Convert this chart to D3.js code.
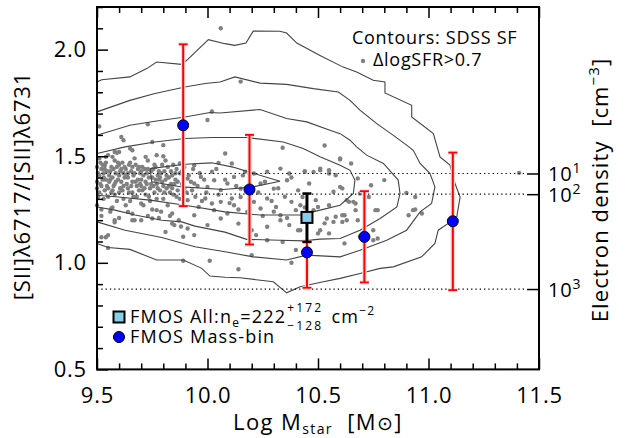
<!DOCTYPE html>
<html>
<head>
<meta charset="utf-8">
<script src="https://cdn.jsdelivr.net/npm/d3@7"></script>
<style>
  body { margin: 0; background: #fff; }
  svg { font-family: "Open Sans", "DejaVu Sans", sans-serif; }
</style>
</head>
<body>
<svg id="chart" width="628" height="438"></svg>
<script>
// ---- data -------------------------------------------------------------
// FMOS stellar-mass bins: log M*, [SII] ratio and its error range
const massBin    = [9.89, 10.19, 10.45, 10.71, 11.11];
const ratioBin   = [1.645, 1.344, 1.049, 1.122, 1.195];
const ratioBinHi = [2.025, 1.600, 1.100, 1.336, 1.517];
const ratioBinLo = [1.266, 1.086, 0.883, 0.908, 0.872];

// FMOS stacked spectrum of all galaxies
const allMass = 10.45;
const allRatio = 1.213;
const allRatioHi = 1.325;
const allRatioLo = 1.098;

// Electron density reference levels and their [SII] ratios
const densityLabels = ["1", "2", "3"];          // exponents of 10
const densityRatio  = [1.419, 1.322, 0.877];

// Axis ticks
const xMajor = [9.5, 10.0, 10.5, 11.0, 11.5];
const yMajor = [0.5, 1.0, 1.5, 2.0];

// SDSS star-forming density contours (log M*, ratio)
const contourA = [[9.50,1.848],[9.521,1.859],[9.649,1.872],[9.725,1.911],[9.770,1.942],[9.883,1.931],[9.906,1.950],[10.004,2.047],[10.079,2.028],[10.124,2.020],[10.174,2.031],[10.207,2.087],[10.328,2.086],[10.358,2.078],[10.404,2.031],[10.509,1.973],[10.614,1.918],[10.675,1.895],[10.750,1.856],[10.803,1.848],[10.803,1.797],[10.924,1.739],[10.924,1.684],[11.022,1.606],[11.052,1.497],[11.097,1.458],[11.120,1.372],[11.143,1.309],[11.128,1.216],[11.090,1.185],[11.044,1.153],[11.029,1.091],[10.969,1.028],[10.841,0.981],[10.781,0.974],[10.690,0.950],[10.600,0.927],[10.524,0.911],[10.419,0.888],[10.358,0.859],[10.298,0.911],[10.147,0.930],[10.079,0.932],[10.011,0.938],[9.974,0.974],[9.891,1.013],[9.770,1.013],[9.649,1.063],[9.551,1.072],[9.50,1.091]];
const contourB = [[9.50,1.708],[9.649,1.762],[9.762,1.794],[9.898,1.825],[9.989,1.841],[10.057,1.848],[10.124,1.872],[10.238,1.843],[10.358,1.837],[10.479,1.817],[10.592,1.801],[10.645,1.762],[10.690,1.716],[10.766,1.653],[10.841,1.598],[10.901,1.552],[10.931,1.528],[10.962,1.466],[11.007,1.419],[11.029,1.356],[11.014,1.278],[10.962,1.239],[10.901,1.153],[10.811,1.106],[10.690,1.059],[10.600,1.028],[10.449,1.036],[10.358,1.013],[10.207,1.028],[10.079,1.052],[9.943,1.075],[9.793,1.119],[9.627,1.153],[9.50,1.192]];
const contourC = [[9.50,1.598],[9.649,1.645],[9.762,1.664],[9.898,1.684],[10.011,1.705],[10.057,1.703],[10.238,1.719],[10.358,1.677],[10.449,1.661],[10.554,1.622],[10.600,1.606],[10.645,1.575],[10.675,1.544],[10.720,1.505],[10.796,1.466],[10.863,1.388],[10.871,1.325],[10.857,1.262],[10.781,1.208],[10.690,1.153],[10.600,1.114],[10.509,1.111],[10.433,1.103],[10.328,1.106],[10.177,1.110],[10.079,1.144],[9.943,1.172],[9.883,1.192],[9.793,1.200],[9.672,1.224],[9.581,1.247],[9.50,1.262]];
const contourD = [[9.50,1.513],[9.627,1.544],[9.762,1.567],[9.898,1.583],[10.019,1.588],[10.177,1.588],[10.343,1.567],[10.433,1.536],[10.509,1.497],[10.600,1.458],[10.645,1.434],[10.667,1.388],[10.660,1.325],[10.600,1.270],[10.509,1.247],[10.419,1.224],[10.238,1.224],[10.079,1.239],[9.898,1.270],[9.740,1.294],[9.596,1.309],[9.50,1.317]];
const contourE = [[9.740,1.442],[9.898,1.462],[10.019,1.469],[10.115,1.449],[10.200,1.422],[10.328,1.383],[10.200,1.355],[10.071,1.344],[9.883,1.356],[9.748,1.380],[9.740,1.442]];
const contours = [contourA, contourB, contourC, contourD, contourE];

// SDSS galaxies with high specific SFR offset (log M*, ratio)
const highSfrPoints = [
  [10.06,2.10],[10.15,1.85],[10.02,1.71],[10.00,1.67],[9.73,1.65],[9.51,1.64],[9.61,1.59],[9.62,1.575],
  [9.75,1.567],[9.80,1.552],[10.34,1.54],[10.53,1.55],[10.60,1.49],[10.65,1.466],[10.08,1.513],
  [9.65,1.536],[9.66,1.528],[9.58,1.52],[9.60,1.52],[9.54,1.497],[9.57,1.497],[9.72,1.497],[9.80,1.50],
  [9.77,1.505],[9.55,1.505],[9.59,1.516],[9.535,1.458],
  [9.50,1.45],[9.51,1.41],[9.50,1.38],[9.52,1.36],[9.51,1.33],[9.53,1.30],[9.50,1.27],[9.52,1.44],
  [9.54,1.39],[9.53,1.42],[9.55,1.35],[9.54,1.47],[9.51,1.49],[9.55,1.31],[9.52,1.25],[9.50,1.35],[9.53,1.40],
  [9.56,1.43],[9.57,1.40],[9.58,1.37],[9.57,1.34],[9.59,1.45],[9.60,1.41],[9.58,1.48],[9.61,1.38],[9.60,1.33],
  [9.62,1.36],[9.59,1.29],[9.61,1.44],[9.57,1.26],[9.62,1.42],[9.56,1.39],[9.60,1.46],[9.58,1.32],[9.62,1.30],
  [9.63,1.44],[9.64,1.40],[9.65,1.47],[9.66,1.38],[9.64,1.35],[9.67,1.42],[9.68,1.36],[9.66,1.33],[9.69,1.45],
  [9.70,1.39],[9.65,1.29],[9.68,1.31],[9.70,1.43],[9.67,1.49],[9.63,1.27],[9.69,1.34],[9.64,1.42],[9.66,1.45],[9.70,1.36],
  [9.71,1.41],[9.72,1.38],[9.73,1.44],[9.74,1.35],[9.75,1.40],[9.76,1.46],[9.72,1.32],[9.77,1.37],[9.78,1.43],
  [9.74,1.29],[9.76,1.33],[9.73,1.48],[9.78,1.39],[9.71,1.27],[9.75,1.25],[9.77,1.30],
  [9.79,1.42],[9.80,1.36],[9.81,1.39],[9.82,1.45],[9.83,1.33],[9.84,1.41],[9.80,1.30],[9.85,1.37],[9.86,1.44],
  [9.82,1.27],[9.84,1.35],[9.81,1.48],[9.86,1.31],[9.79,1.24],
  [9.505,1.42],[9.515,1.37],[9.525,1.46],[9.535,1.34],[9.545,1.43],[9.555,1.38],[9.565,1.45],[9.575,1.36],
  [9.585,1.42],[9.595,1.39],[9.605,1.35],[9.615,1.47],[9.625,1.40],[9.635,1.37],[9.645,1.33],[9.655,1.43],
  [9.665,1.41],[9.675,1.46],[9.685,1.39],[9.695,1.37],[9.705,1.45],[9.715,1.35],[9.725,1.42],[9.735,1.40],
  [9.745,1.37],[9.755,1.44],[9.765,1.39],[9.775,1.41],[9.785,1.34],[9.795,1.38],[9.805,1.43],[9.815,1.35],
  [9.825,1.40],[9.835,1.37],[9.845,1.46],[9.855,1.39],[9.865,1.34],[9.875,1.42],[9.885,1.37],[9.895,1.45],
  [9.905,1.33],[9.915,1.41],[9.925,1.38],[9.935,1.44],[9.945,1.31],[9.955,1.36],[9.965,1.42],[9.975,1.29],
  [9.985,1.39],[9.995,1.33],
  [9.505,1.31],[9.515,1.47],[9.525,1.39],[9.535,1.44],[9.545,1.36],[9.555,1.41],[9.565,1.33],[9.575,1.44],
  [9.585,1.38],[9.595,1.47],[9.605,1.43],[9.615,1.34],[9.625,1.45],[9.635,1.41],[9.645,1.46],[9.655,1.36],
  [9.665,1.31],[9.675,1.38],[9.685,1.44],[9.695,1.42],[9.705,1.34],[9.715,1.44],[9.725,1.37],[9.735,1.31],
  [9.745,1.43],[9.755,1.36],[9.765,1.45],[9.775,1.35],[9.785,1.40],[9.795,1.46],[9.805,1.33],[9.815,1.41],
  [9.825,1.36],[9.835,1.43],[9.845,1.32],[9.855,1.42],[9.865,1.38],[9.875,1.30],[9.885,1.43],[9.895,1.35],
  [9.52,1.22],[9.56,1.24],[9.60,1.21],[9.66,1.23],[9.70,1.20],[9.73,1.22],[9.78,1.21],[9.83,1.22],[9.87,1.20],[9.58,1.19],
  [9.565,1.255],[9.64,1.239],[9.70,1.278],[9.77,1.247],[9.84,1.231],[9.58,1.20],[9.67,1.20],
  [9.54,1.12],[9.52,1.12],[9.55,1.07],[9.55,1.13],[9.89,1.01],[10.01,1.01],[9.81,1.145],[9.88,1.17],[9.94,1.13],
  [9.66,1.20],[9.75,1.208],[9.85,1.177],[10.14,0.97],[10.38,1.00],
  [9.94,1.458],[10.02,1.427],[10.05,1.469],[10.11,1.466],[10.17,1.427],[10.27,1.427],[10.33,1.442],[10.44,1.427],
  [10.37,1.419],[10.21,1.419],[9.875,1.466],
  [9.91,1.395],[9.94,1.372],[9.97,1.403],[10.00,1.356],[10.03,1.387],[10.06,1.341],[10.09,1.372],[10.12,1.403],
  [10.15,1.348],[9.93,1.34],[10.24,1.372],[10.30,1.348],[10.36,1.387],[10.41,1.34],[10.46,1.372],
  [9.91,1.294],[9.96,1.262],[9.99,1.302],[10.03,1.247],[10.06,1.286],[10.09,1.231],[10.12,1.27],[10.15,1.309],
  [10.18,1.239],[10.21,1.286],[10.24,1.255],[10.27,1.302],[10.31,1.262],[10.33,1.223],[10.38,1.286],[10.40,1.247],
  [10.43,1.309],[10.02,1.278],[9.94,1.223],[10.11,1.302],
  [10.00,1.177],[10.06,1.208],[10.14,1.184],[10.20,1.153],[10.27,1.169],[10.33,1.20],[10.41,1.153],[9.84,1.184],
  [9.91,1.161],[9.89,1.122],
  [10.04,1.44],[10.08,1.39],[10.13,1.36],[10.16,1.41],[10.19,1.30],[10.23,1.33],[10.26,1.38],[10.29,1.29],
  [10.32,1.35],[10.35,1.31],[10.38,1.40],[10.42,1.27],[10.05,1.32],[10.10,1.28],[10.14,1.25],[10.18,1.35],
  [10.25,1.22],[10.30,1.24],[10.36,1.21],[10.44,1.26],
  [10.60,1.485],[10.44,1.43],[10.48,1.426],[10.51,1.434],[10.55,1.419],[10.58,1.411],[10.61,1.349],[10.63,1.294],
  [10.66,1.286],[10.69,1.325],[10.74,1.364],[10.77,1.247],[10.90,1.328],[10.94,1.25],[10.97,1.231],[10.49,1.294],
  [10.50,1.262],[10.55,1.27],[11.41,1.422],
  [10.68,1.396],[10.80,1.388],[10.64,1.286],[10.67,1.278],[10.67,1.247],[10.62,1.223],[10.61,1.192],[10.68,1.20],
  [10.76,1.247],[10.75,1.153],[10.75,1.106],[10.94,1.309],[10.91,1.223],[10.93,1.247],[10.73,1.309],
  [10.69,1.122],[10.55,1.434],[10.51,1.442],[10.60,1.356],[10.57,1.333],[10.58,1.216],[10.57,1.192],[10.63,1.20],
  [10.54,1.208],[10.48,1.247],[10.51,1.153],[10.55,1.138],[10.42,1.153],[10.37,1.177],[10.27,1.106],[10.22,1.13],
  [10.40,1.06],[10.20,1.036],[10.34,1.098],[10.53,1.185],[10.50,1.138],[10.62,1.091],[10.77,1.114],[10.61,1.223]
];

// ---- scales -----------------------------------------------------------
const svg = d3.select("#chart");
const x = d3.scaleLinear().domain([9.5, 11.5]).range([97, 539]);
const y = d3.scaleLinear().domain([0.5, 2.2]).range([369.4, 7]);
const [x0, x1] = x.range();
const [yBottom, yTop] = y.range();

const xMinor = d3.range(95, 116).map(v => v / 10).filter(v => !xMajor.includes(v));
const yMinor = d3.range(5, 23).map(v => v / 10).filter(v => !yMajor.includes(v));

const FONT = '"Open Sans", "DejaVu Sans", sans-serif';

// ---- scatter points ---------------------------------------------------
svg.append("g")
  .selectAll("circle")
  .data(highSfrPoints)
  .join("circle")
  .attr("cx", d => x(d[0]))
  .attr("cy", d => y(d[1]))
  .attr("r", 2.2)
  .attr("fill", "#808080");

// ---- contours ---------------------------------------------------------
const line = d3.line().x(d => x(d[0])).y(d => y(d[1]));
svg.append("g")
  .selectAll("path")
  .data(contours)
  .join("path")
  .attr("d", line)
  .attr("fill", "none")
  .attr("stroke", "#444")
  .attr("stroke-width", 1.1);

// ---- electron density reference lines ---------------------------------
svg.append("g")
  .selectAll("line")
  .data(densityRatio)
  .join("line")
  .attr("x1", x0).attr("x2", x1 - 12)
  .attr("y1", d => y(d)).attr("y2", d => y(d))
  .attr("stroke", "#000")
  .attr("stroke-width", 1.2)
  .attr("stroke-dasharray", "1.3,3");

// ---- mass-bin error bars ----------------------------------------------
const capW = 4.5;
const bars = svg.append("g");
massBin.forEach((m, i) => {
  const g = bars.append("g");
  const cx = x(m);
  // soft halo under the red bars
  g.append("line").attr("x1", cx).attr("x2", cx)
    .attr("y1", y(ratioBinHi[i])).attr("y2", y(ratioBinLo[i]))
    .attr("stroke", "#eadcdc").attr("stroke-width", 4.5);
  [ratioBinHi[i], ratioBinLo[i]].forEach(v => {
    g.append("line").attr("x1", cx - capW).attr("x2", cx + capW)
      .attr("y1", y(v)).attr("y2", y(v))
      .attr("stroke", "#eadcdc").attr("stroke-width", 4);
  });
  g.append("line").attr("x1", cx).attr("x2", cx)
    .attr("y1", y(ratioBinHi[i])).attr("y2", y(ratioBinLo[i]))
    .attr("stroke", "#ff0000").attr("stroke-width", 2);
  [ratioBinHi[i], ratioBinLo[i]].forEach(v => {
    g.append("line").attr("x1", cx - capW).attr("x2", cx + capW)
      .attr("y1", y(v)).attr("y2", y(v))
      .attr("stroke", "#ff0000").attr("stroke-width", 1.8);
  });
});

// ---- stacked (all galaxies) point ---------------------------------------
const ax = x(allMass);
svg.append("line").attr("x1", ax).attr("x2", ax)
  .attr("y1", y(allRatioHi)).attr("y2", y(allRatioLo))
  .attr("stroke", "#000").attr("stroke-width", 3);
[allRatioHi, allRatioLo].forEach(v => {
  svg.append("line").attr("x1", ax - capW).attr("x2", ax + capW)
    .attr("y1", y(v)).attr("y2", y(v))
    .attr("stroke", "#000").attr("stroke-width", 2.5);
});
svg.append("rect")
  .attr("x", ax - 5.5).attr("y", y(allRatio) - 5.5)
  .attr("width", 11).attr("height", 11)
  .attr("fill", "#87ceeb").attr("stroke", "#000").attr("stroke-width", 2);

// ---- mass-bin points ----------------------------------------------------
svg.append("g")
  .selectAll("circle")
  .data(massBin)
  .join("circle")
  .attr("cx", d => x(d))
  .attr("cy", (d, i) => y(ratioBin[i]))
  .attr("r", 5.5)
  .attr("fill", "#0000ff")
  .attr("stroke", "#000")
  .attr("stroke-width", 1);

// ---- axes ---------------------------------------------------------------
function styleAxis(g) {
  g.select(".domain").remove();
  g.selectAll("line").attr("stroke", "#000").attr("stroke-width", 1.5);
  g.attr("font-family", FONT).attr("font-size", 22);
  g.selectAll("text").attr("fill", "#000").attr("letter-spacing", 0.8);
}

// bottom
svg.append("g").attr("transform", `translate(0,${yBottom})`)
  .call(d3.axisBottom(x).tickValues(xMinor).tickSize(-6).tickFormat(""))
  .call(styleAxis);
svg.append("g").attr("transform", `translate(0,${yBottom})`)
  .call(d3.axisBottom(x).tickValues(xMajor).tickSizeInner(-11).tickSizeOuter(0)
        .tickPadding(18).tickFormat(d3.format(".1f")))
  .call(styleAxis);
// top (ticks only)
svg.append("g").attr("transform", `translate(0,${yTop})`)
  .call(d3.axisTop(x).tickValues(xMinor).tickSize(-6).tickFormat(""))
  .call(styleAxis);
svg.append("g").attr("transform", `translate(0,${yTop})`)
  .call(d3.axisTop(x).tickValues(xMajor).tickSize(-11).tickFormat(""))
  .call(styleAxis);
// left
svg.append("g").attr("transform", `translate(${x0},0)`)
  .call(d3.axisLeft(y).tickValues(yMinor).tickSize(-6).tickFormat(""))
  .call(styleAxis);
svg.append("g").attr("transform", `translate(${x0},0)`)
  .call(d3.axisLeft(y).tickValues(yMajor).tickSizeInner(-11).tickSizeOuter(0)
        .tickPadding(10).tickFormat(d3.format(".1f")))
  .call(styleAxis);
// right: electron density
const rightAxis = svg.append("g").attr("transform", `translate(${x1},0)`)
  .call(d3.axisRight(y).tickValues(densityRatio).tickSizeInner(-12).tickSizeOuter(0)
        .tickPadding(9).tickFormat(""))
  .call(styleAxis);
rightAxis.attr("font-size", 20);
rightAxis.selectAll(".tick text")
  .attr("dy", "0.36em")
  .each(function (d, i) {
    const t = d3.select(this);
    t.append("tspan").text("10");
    t.append("tspan").attr("font-size", 14).attr("dy", -8).text(densityLabels[i]);
  });

// frame
svg.append("rect")
  .attr("x", x0).attr("y", yTop)
  .attr("width", x1 - x0).attr("height", yBottom - yTop)
  .attr("fill", "none").attr("stroke", "#000").attr("stroke-width", 2);

// ---- axis titles --------------------------------------------------------
const xTitle = svg.append("text")
  .attr("x", 318).attr("y", 430).attr("text-anchor", "middle")
  .attr("font-family", FONT).attr("font-size", 22).attr("letter-spacing", 1.4)
  .style("white-space", "pre");
xTitle.append("tspan").text("Log M");
xTitle.append("tspan").attr("font-size", 14).attr("dy", 4).text("star");
xTitle.append("tspan").attr("dy", -4).text("  [M");
xTitle.append("tspan").attr("font-family", "DejaVu Sans").attr("font-size", 19).text("\u2299");
xTitle.append("tspan").text("]");

svg.append("text")
  .attr("transform", "translate(30,186) rotate(-90)")
  .attr("text-anchor", "middle")
  .attr("font-family", FONT).attr("font-size", 22).attr("letter-spacing", 0.9)
  .text("[SII]\u03bb6717/[SII]\u03bb6731");

const yTitle2 = svg.append("text")
  .attr("transform", "translate(608,190) rotate(-90)")
  .attr("text-anchor", "middle")
  .attr("font-family", FONT).attr("font-size", 22).attr("letter-spacing", 1.1)
  .style("white-space", "pre");
yTitle2.append("tspan").text("Electron density  [cm");
yTitle2.append("tspan").attr("font-size", 15).attr("dy", -9).text("\u22123");
yTitle2.append("tspan").attr("dy", 9).text("]");

// ---- annotation (top right) --------------------------------------------
svg.append("text").attr("x", 352).attr("y", 44)
  .attr("font-family", FONT).attr("font-size", 18).attr("letter-spacing", 0.7)
  .text("Contours: SDSS SF");
svg.append("circle").attr("cx", 363).attr("cy", 61).attr("r", 2.2).attr("fill", "#808080");
svg.append("text").attr("x", 373).attr("y", 66)
  .attr("font-family", FONT).attr("font-size", 18).attr("letter-spacing", 0.7)
  .text("\u0394logSFR>0.7");

// ---- legend (bottom left) -----------------------------------------------
svg.append("rect").attr("x", 113.5).attr("y", 311.5).attr("width", 11).attr("height", 11)
  .attr("fill", "#87ceeb").attr("stroke", "#000").attr("stroke-width", 2);
const leg1 = svg.append("text").attr("x", 130).attr("y", 323)
  .attr("font-family", FONT).attr("font-size", 18).attr("letter-spacing", 1.2);
leg1.append("tspan").text("FMOS All:n");
leg1.append("tspan").attr("font-size", 12).attr("dy", 4).text("e");
leg1.append("tspan").attr("dy", -4).text("=222");
const legEnd = 130 + leg1.node().getComputedTextLength() + 1;
const supT = svg.append("text").attr("x", legEnd).attr("y", 312)
  .attr("font-family", FONT).attr("font-size", 12).attr("letter-spacing", 2.2).text("+172");
const subT = svg.append("text").attr("x", legEnd).attr("y", 330)
  .attr("font-family", FONT).attr("font-size", 12).attr("letter-spacing", 2.2).text("\u2212128");
const stackW = Math.max(supT.node().getComputedTextLength(), subT.node().getComputedTextLength());
const cmT = svg.append("text").attr("x", legEnd + stackW + 8).attr("y", 323)
  .attr("font-family", FONT).attr("font-size", 18).attr("letter-spacing", 1.2);
cmT.append("tspan").text("cm");
cmT.append("tspan").attr("font-size", 12).attr("dy", -8).text("\u22122");

svg.append("circle").attr("cx", 119).attr("cy", 337).attr("r", 5.5)
  .attr("fill", "#0000ff").attr("stroke", "#000").attr("stroke-width", 1);
svg.append("text").attr("x", 130).attr("y", 343)
  .attr("font-family", FONT).attr("font-size", 18).attr("letter-spacing", 1.2)
  .text("FMOS Mass-bin");
</script>
</body>
</html>
